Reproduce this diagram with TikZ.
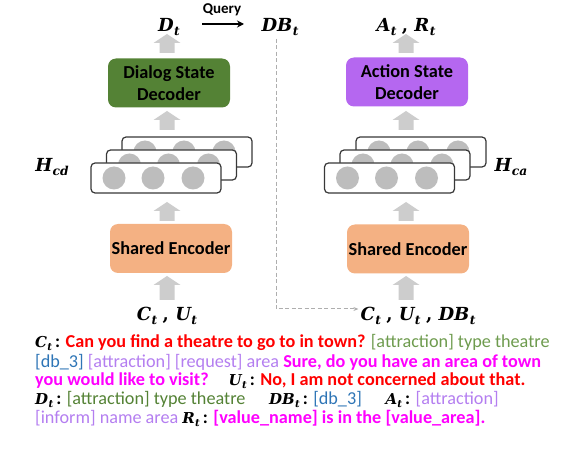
\documentclass[tikz,border=0pt]{standalone}
\usepackage{fontspec}
\setmainfont{Carlito}
\newfontfamily\mfont{DejaVu Serif}[BoldItalicFont={DejaVu Serif Bold Italic}]
\usetikzlibrary{calc,arrows.meta}
\definecolor{decgreen}{HTML}{548235}
\definecolor{decpurple}{HTML}{B567F0}
\definecolor{encorange}{HTML}{F4B183}
\definecolor{arrgray}{HTML}{CDCDCD}
\definecolor{circgray}{HTML}{BDBDBD}
\definecolor{cred}{HTML}{FF0000}
\definecolor{cgreenA}{HTML}{6E9B4E}
\definecolor{cgreenB}{HTML}{548235}
\definecolor{cblue}{HTML}{2E75B6}
\definecolor{cpurple}{HTML}{B47EF0}
\definecolor{cmag}{HTML}{FF00FF}
% bold italic serif symbol with subscript
\newcommand{\ms}[2]{{\mfont\bfseries\itshape #1\kern0.02em\raisebox{-0.38ex}{\scalebox{0.68}{#2}}}}
\newcommand{\cs}[2]{{\fontsize{15}{15}\selectfont\ms{#1}{#2}}}
\newcommand{\cm}{\hspace{0.3em}{\mfont\bfseries ,}\hspace{0.35em}}
\newcommand{\rg}[2]{\textcolor{#1}{\mdseries #2}}
\newcommand{\garrow}[2]{%
  \fill[arrgray] let \p1=(#1), \p2=(#2) in
   (\x1-7.5pt,\y1) -- (\x1-7.5pt,\y2-9pt) -- (\x1-13.5pt,\y2-9pt)
   -- (\x1,\y2) -- (\x1+13.5pt,\y2-9pt) -- (\x1+7.5pt,\y2-9pt) -- (\x1+7.5pt,\y1) -- cycle;}
\newcommand{\layerrow}[2]{% name, center
  \node[layerbox] (#1) at (#2) {};
  \fill[circgray] ($(#2)+(-42,0)$) circle[radius=11.5pt];
  \fill[circgray] ($(#2)+(-3,0)$) circle[radius=11.5pt];
  \fill[circgray] ($(#2)+(37,0)$) circle[radius=11.5pt];}
\begin{document}
\begin{tikzpicture}[x=1pt,y=-1pt,
  box/.style={rounded corners=8pt,minimum width=122pt,minimum height=49pt,align=center,
    font=\fontsize{18.3}{22}\selectfont\bfseries,inner sep=0pt},
  layerbox/.style={draw=black!78,line width=1.2pt,fill=white,rounded corners=4pt,
    minimum width=130pt,minimum height=30pt,inner sep=0pt},
  mathlab/.style={font=\fontsize{18}{20}\selectfont,inner sep=0pt},
  capline/.style={anchor=base west,inner sep=0pt,font=\fontsize{18.2}{19}\selectfont\bfseries}]
\useasboundingbox (0,0) rectangle (566,468);
% ---------- left column ----------
\node[box,fill=decgreen] (dsd) at (169,83) {Dialog State\\Decoder};
\node[box,fill=encorange] (enc1) at (171,248.5) {Shared Encoder};
\layerrow{lb1}{187,152}
\layerrow{lm1}{171.5,165}
\layerrow{lf1}{156,178}
\node[mathlab] (dt) at (169,27) {\ms{D}{t}};
\node[mathlab] (hcd) at (52,167) {\ms{H}{cd}};
\node[mathlab] (cu) at (167,316) {\ms{C}{t}\cm\ms{U}{t}};
\coordinate (a1b) at (167,53); \coordinate (a1t) at (167,34);
\coordinate (a2b) at (167,130); \coordinate (a2t) at (167,111);
\coordinate (a3b) at (167,221); \coordinate (a3t) at (167,202);
\coordinate (a4b) at (167,300); \coordinate (a4t) at (167,276);
\garrow{a1b}{a1t}
\garrow{a2b}{a2t}
\garrow{a3b}{a3t}
\garrow{a4b}{a4t}
% ---------- top middle ----------
\node[font=\fontsize{15}{17}\selectfont\bfseries,inner sep=0pt] (query) at (222,10) {Query};
\node[mathlab] (dbt) at (280,27) {\ms{DB}{t}};
\draw[line width=1.5pt,-{Stealth[length=7pt,width=7pt]}] (202,24) -- (244,24);
% ---------- right column ----------
\node[box,fill=decpurple] (asd) at (407,82) {Action State\\Decoder};
\node[box,fill=encorange] (enc2) at (408,249) {Shared Encoder};
\layerrow{lb2}{421,152}
\layerrow{lm2}{405,165}
\layerrow{lf2}{389.5,178}
\node[mathlab] (ar) at (406,27) {\ms{A}{t}\cm\ms{R}{t}};
\node[mathlab] (hca) at (511,167) {\ms{H}{ca}};
\node[mathlab] (cudb) at (418,316) {\ms{C}{t}\cm\ms{U}{t}\cm\ms{DB}{t}};
\coordinate (b1b) at (406,53); \coordinate (b1t) at (406,34);
\coordinate (b2b) at (406,130); \coordinate (b2t) at (406,111);
\coordinate (b3b) at (406,221); \coordinate (b3t) at (406,202);
\coordinate (b4b) at (406,300); \coordinate (b4t) at (406,276);
\garrow{b1b}{b1t}
\garrow{b2b}{b2t}
\garrow{b3b}{b3t}
\garrow{b4b}{b4t}
% ---------- dashed connector ----------
\coordinate (turn) at (276,309);
\draw[arrgray!85!black,line width=1pt,dash pattern=on 4pt off 2.5pt,-{Stealth[length=5pt,width=4pt]}]
  ($(turn |- dbt.south)+(0,3)$) -- (turn) -- ($(cudb.west |- turn)+(-2,0)$);
% ---------- caption ----------
\node[capline] (l1) at (35,348) {\cs{C}{t}\,: \textcolor{cred}{Can you find a theatre to go to in town?} \rg{cgreenA}{[attraction] type theatre}};
\node[capline] (l2) at (35,367) {\rg{cblue}{[db\_3]} \rg{cpurple}{[attraction] [request] area} \textcolor{cmag}{Sure, do you have an area of town}};
\node[capline] (l3) at (35,386) {\textcolor{cmag}{you would like to visit?}\hspace{1.1em}\cs{U}{t}\,: \textcolor{cred}{No, I am not concerned about that.}};
\node[capline] (l4) at (35,405) {\cs{D}{t}\,: \rg{cgreenB}{[attraction] type theatre}\hspace{1.3em}\cs{DB}{t}\,: \rg{cblue}{[db\_3]}\hspace{1.3em}\cs{A}{t}\,: \rg{cpurple}{[attraction]}};
\node[capline] (l5) at (35,424) {\rg{cpurple}{[inform] name area}\ \cs{R}{t}\,: \textcolor{cmag}{[value\_name] is in the [value\_area].}};
\end{tikzpicture}
\end{document}
